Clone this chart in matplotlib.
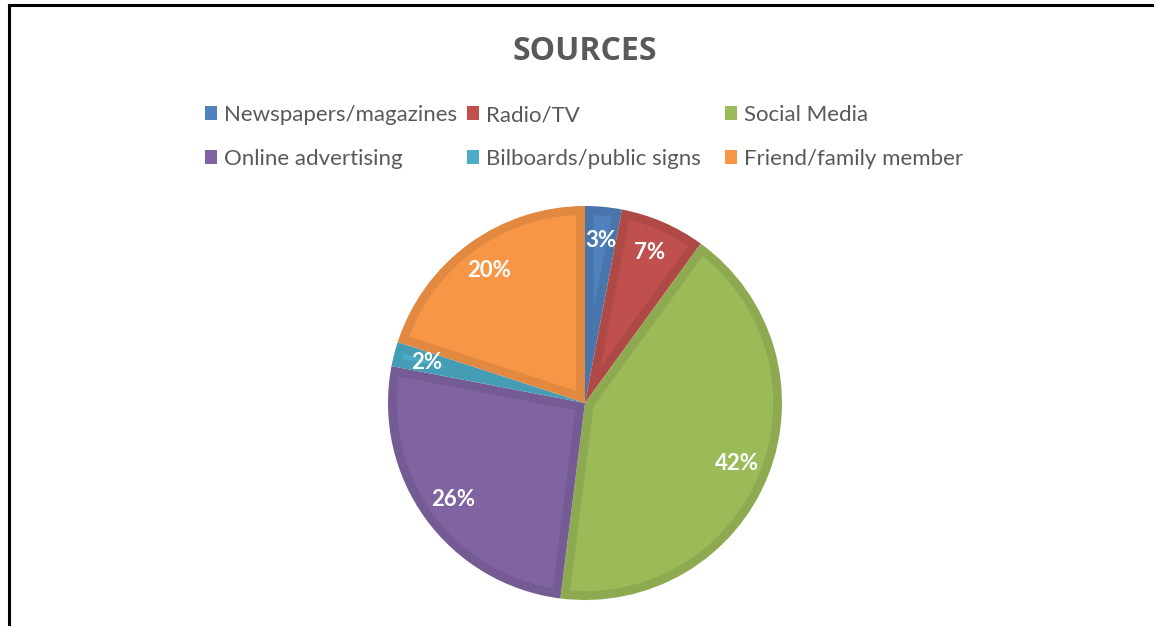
import matplotlib
matplotlib.use("Agg")
import numpy as np
import matplotlib.pyplot as plt
import matplotlib.colors as mcolors
from matplotlib.patches import Patch, Polygon
from matplotlib.lines import Line2D

# Veriler
kategoriler = ["Newspapers/magazines", "Radio/TV", "Social Media",
               "Online advertising", "Bilboards/public signs", "Friend/family member"]
degerler = [3, 7, 42, 26, 2, 20]
renkler = ["#4F81BD", "#C0504D", "#9BBB59", "#8064A2", "#4BACC6", "#F79646"]
baslik = "SOURCES"

plt.rcParams["font.family"] = ["Lato", "DejaVu Sans"]
GRI = "#595959"

W, H = 1154, 626
fig = plt.figure(figsize=(W / 100, H / 100), dpi=100)
fig.patch.set_facecolor("white")


def koyu(renk, k=0.91):
    r, g, b = mcolors.to_rgb(renk)
    return (r * k, g * k, b * k)


def ic_dilim(w, d):
    """Dilimin kenarindan d kadar iceride kalan bolge (Excel tarzi ic kenarlik)."""
    x0, y0 = w.center
    R = w.r
    t1, t2 = np.radians(w.theta1), np.radians(w.theta2)
    yarim = (t2 - t1) / 2
    v = d / np.sin(yarim)
    a = np.arcsin(d / (R - d))
    orta = (t1 + t2) / 2
    aci = np.linspace(t1 + a, t2 - a, 100)
    xs = np.r_[x0 + v * np.cos(orta), x0 + (R - d) * np.cos(aci)]
    ys = np.r_[y0 + v * np.sin(orta), y0 + (R - d) * np.sin(aci)]
    return np.column_stack([xs, ys])


# Pasta grafik: merkez (585, 403) px, yaricap 197 px
cx, cy, r = 585, 403, 197
ax = fig.add_axes([(cx - r) / W, (H - cy - r) / H, 2 * r / W, 2 * r / H])
wedges, _, etiketler = ax.pie(
    degerler, colors=renkler, startangle=90, counterclock=False,
    autopct="%.0f%%", pctdistance=0.83, radius=1,
    wedgeprops=dict(linewidth=0),
    textprops=dict(color="white", fontsize=16, fontweight="bold"),
)
for w, c in zip(wedges, renkler):
    w.set_facecolor(koyu(c))
    ax.add_patch(Polygon(ic_dilim(w, 0.045), closed=True, facecolor=c,
                         edgecolor="none", zorder=w.get_zorder()))
ax.set_xlim(-1, 1)
ax.set_ylim(-1, 1)
ax.set_aspect("equal")
ax.axis("off")

# Baslik
fig.text(cx / W, 1 - 52 / H, baslik, ha="center", va="center",
         fontsize=23, fontweight="bold", color=GRI, family=["Open Sans", "DejaVu Sans"])

# Lejant: 3 sutun, 2 satir
sutun_x = [205, 467, 725]
for j in range(3):
    idx = [j, j + 3]
    tutamaklar = [Patch(facecolor=renkler[i], edgecolor="none") for i in idx]
    fig.legend(tutamaklar, [kategoriler[i] for i in idx],
               loc="upper left", bbox_to_anchor=(sutun_x[j] / W, 1 - 105 / H),
               frameon=False, fontsize=16, labelcolor=GRI,
               handlelength=0.56, handleheight=0.56, handletextpad=0.3,
               labelspacing=1.08, borderpad=0, borderaxespad=0)

# Cerceve cizgileri (sol ve ust)
fig.add_artist(Line2D([9 / W, 9 / W], [0, 1 - 5 / H], color="black", lw=2.2,
                      transform=fig.transFigure, solid_capstyle="projecting"))
fig.add_artist(Line2D([9 / W, 1], [1 - 5 / H, 1 - 5 / H], color="black", lw=2.2,
                      transform=fig.transFigure, solid_capstyle="projecting"))

fig.savefig("out.png", dpi=100, facecolor="white")
